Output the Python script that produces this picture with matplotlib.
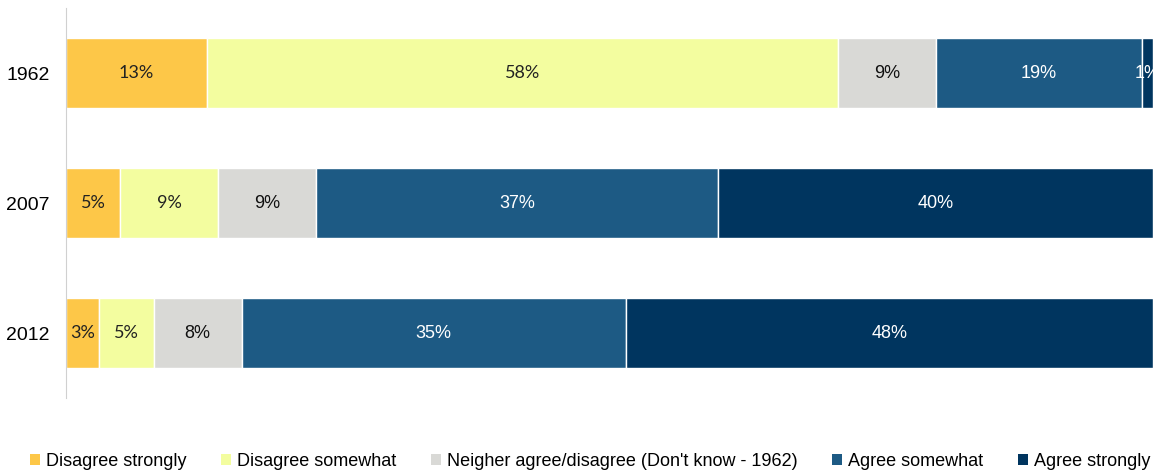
import matplotlib.pyplot as plt
from matplotlib.patches import Patch

years = ["1962", "2007", "2012"]
categories = ["Disagree strongly", "Disagree somewhat",
              "Neigher agree/disagree (Don't know - 1962)",
              "Agree somewhat", "Agree strongly"]
disagree_strongly = [13, 5, 3]
disagree_somewhat = [58, 9, 5]
neither = [9, 9, 8]
agree_somewhat = [19, 37, 35]
agree_strongly = [1, 40, 48]

colors = ["#fdc748", "#f3fd9f", "#d9d9d6", "#1d5a84", "#00355f"]
label_colors = ["#222222", "#222222", "#111111", "white", "white"]
label_fonts = ["Lato", "Lato", "Liberation Sans", "Liberation Sans", "Liberation Sans"]

series = [disagree_strongly, disagree_somewhat, neither, agree_somewhat, agree_strongly]
totals = [sum(s[i] for s in series) for i in range(len(years))]

plt.rcParams['font.family'] = ['Liberation Sans', 'DejaVu Sans']
fig = plt.figure(figsize=(11.57, 4.74), dpi=100)
ax = fig.add_axes([0.057, 0.160, 0.9396, 0.823])

left = [0.0] * len(years)
for vals, col, tcol, fnt in zip(series, colors, label_colors, label_fonts):
    # 100% stacked: scale each row to its total
    widths = [v / t * 100 for v, t in zip(vals, totals)]
    ax.barh(range(len(years)), widths, left=left, height=0.54,
            color=col, edgecolor="white", linewidth=1)
    for i, (v, w) in enumerate(zip(vals, widths)):
        ax.text(left[i] + w / 2, i, f"{v}%", ha="center", va="center",
                color=tcol, fontsize=13, family=fnt, clip_on=False)
    left = [l + w for l, w in zip(left, widths)]

ax.set_xlim(0, 100)
ax.set_ylim(2.5, -0.5)
ax.set_yticks(range(len(years)))
ax.set_yticklabels(years, fontsize=14)
ax.tick_params(axis="y", length=0, pad=11.5)
ax.set_xticks([])
for s in ["top", "right", "bottom"]:
    ax.spines[s].set_visible(False)
ax.spines["left"].set_color("#d0d0d0")

handles = [Patch(facecolor=c, edgecolor="none") for c in colors]
fig.legend(handles, categories, loc="lower center", ncol=5, frameon=False,
           fontsize=13, handlelength=0.55, handleheight=0.55, handletextpad=0.35,
           columnspacing=1.9, bbox_to_anchor=(0.51, -0.025))

fig.savefig("out.png")
